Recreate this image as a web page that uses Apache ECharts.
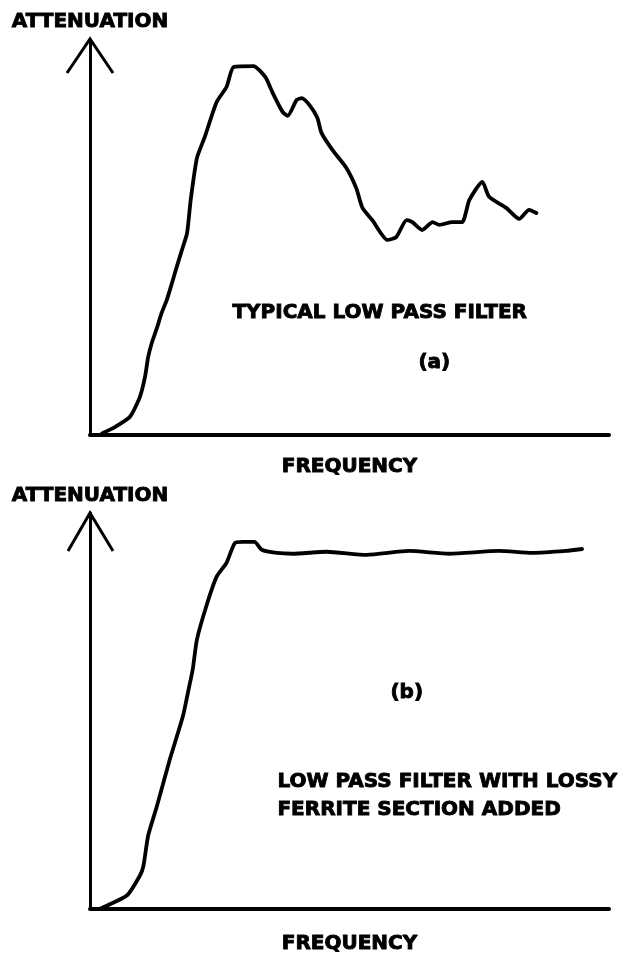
<!DOCTYPE html>
<html>
<head>
<meta charset="utf-8">
<script src="https://cdn.jsdelivr.net/npm/echarts@6/dist/echarts.min.js"></script>
<style>
  html, body { margin: 0; padding: 0; background: #fff; }
  #chart { width: 639px; height: 955px; }
</style>
</head>
<body>
<div id="chart"></div>
<script>
// frequency / attenuation in arbitrary units (0..100)
var freqA = [2.0, 2.5, 4.8, 7.7, 9.6, 10.6, 11.2, 11.9, 12.9, 13.8, 14.8, 15.8, 16.7, 17.7, 18.7, 19.4, 20.6, 22.1, 24.4, 26.3, 27.7, 31.5, 33.8, 35.2, 37.1, 38.1, 39.8, 40.8, 42.3, 43.8, 44.6, 46.7, 49.4, 51.3, 52.5, 54.4, 57.3, 59.0, 61.0, 62.1, 64.0, 66.0, 67.3, 69.8, 71.7, 73.1, 75.6, 76.9, 80.2, 82.7, 84.6, 86.0];
var attA = [0, 0.5, 2.0, 4.6, 9.6, 14.7, 19.7, 23.3, 27.1, 30.9, 34.2, 38.5, 42.5, 46.8, 51.1, 59.5, 70.1, 75.4, 84.3, 88.1, 93.2, 93.4, 90.6, 86.6, 81.8, 80.8, 84.8, 85.3, 83.5, 80.3, 76.5, 72.2, 67.6, 62.5, 57.5, 54.4, 49.4, 50.1, 54.4, 53.9, 51.9, 53.9, 53.2, 53.9, 53.9, 59.5, 64.1, 60.3, 57.5, 54.7, 57.0, 56.2];

var freqB = [2.0, 2.5, 7.1, 9.6, 10.3, 11.2, 12.9, 15.4, 17.9, 19.0, 19.8, 20.6, 22.5, 24.4, 26.3, 27.9, 29.4, 31.7, 33.1, 36.0, 39.0, 45.6, 53.3, 61.5, 69.2, 78.8, 85.2, 91.7, 94.8];
var attB = [0, 0.3, 3.3, 8.3, 10.8, 18.4, 25.9, 37.8, 48.6, 55.4, 60.5, 68.0, 76.8, 83.9, 87.4, 92.4, 92.7, 92.7, 90.7, 89.9, 89.7, 90.2, 89.4, 90.4, 89.7, 90.4, 89.9, 90.4, 90.9];

function pairs(xs, ys) {
  var out = [];
  for (var i = 0; i < xs.length; i++) out.push([xs[i], ys[i]]);
  return out;
}

var FONT = 'DejaVu Sans';
// stroke makes the bold face look closer to the heavy lettering of the original
var labelStyle = { fontFamily: FONT, fontWeight: 'bold', fontSize: 20, fill: '#000', stroke: '#000', lineWidth: 0.9 };
var nameStyle = { fontFamily: FONT, fontWeight: 'bold', fontSize: 20, color: '#000', textBorderColor: '#000', textBorderWidth: 0.9, verticalAlign: 'middle' };

function xAxisFor(idx, gap) {
  return {
    type: 'value', gridIndex: idx, min: 0, max: 100,
    name: 'FREQUENCY', nameLocation: 'middle', nameGap: gap,
    nameTextStyle: nameStyle,
    axisLine: { show: true, lineStyle: { color: '#000', width: 4 } },
    axisTick: { show: false }, axisLabel: { show: false }, splitLine: { show: false }
  };
}
function yAxisFor(idx, gap) {
  return {
    type: 'value', gridIndex: idx, min: 0, max: 100,
    name: 'ATTENUATION', nameLocation: 'end', nameGap: gap,
    nameTextStyle: Object.assign({ align: 'center', fontSize: 20.5 }, nameStyle),
    axisLine: { show: true, onZero: false, lineStyle: { color: '#000', width: 3 } },
    axisTick: { show: false }, axisLabel: { show: false }, splitLine: { show: false }
  };
}

var myChart = echarts.init(document.getElementById('chart'));
var option = {
  backgroundColor: '#fff',
  animation: false,
  grid: [
    { left: 90, right: 30, top: 40, bottom: 520 },
    { left: 90, right: 30, top: 513, bottom: 45 }
  ],
  xAxis: [xAxisFor(0, 32), xAxisFor(1, 35)],
  yAxis: [yAxisFor(0, 18), yAxisFor(1, 17)],
  series: [
    {
      type: 'line', xAxisIndex: 0, yAxisIndex: 0,
      data: pairs(freqA, attA), showSymbol: false, smooth: 0.2,
      lineStyle: { color: '#000', width: 3.8, cap: 'round', join: 'round' }
    },
    {
      type: 'line', xAxisIndex: 1, yAxisIndex: 1,
      data: pairs(freqB, attB), showSymbol: false, smooth: 0.2,
      lineStyle: { color: '#000', width: 3.8, cap: 'round', join: 'round' }
    }
  ],
  graphic: [
    // open arrow heads on the attenuation axes
    { type: 'polyline', shape: { points: [[67, 73], [90, 39], [113, 73]] }, style: { stroke: '#000', lineWidth: 3, fill: null } },
    { type: 'polyline', shape: { points: [[68, 551], [90, 513], [113, 551]] }, style: { stroke: '#000', lineWidth: 3, fill: null } },
    { type: 'text', left: 232, top: 302, style: Object.assign({ text: 'TYPICAL LOW PASS FILTER' }, labelStyle) },
    { type: 'text', left: 418, top: 352, style: Object.assign({ text: '(a)' }, labelStyle) },
    { type: 'text', left: 390, top: 682, style: Object.assign({ text: '(b)' }, labelStyle) },
    { type: 'text', left: 277, top: 771, style: Object.assign({ text: 'LOW PASS FILTER WITH LOSSY' }, labelStyle) },
    { type: 'text', left: 277, top: 799, style: Object.assign({ text: 'FERRITE SECTION ADDED' }, labelStyle) }
  ]
};
myChart.setOption(option);
</script>
</body>
</html>
